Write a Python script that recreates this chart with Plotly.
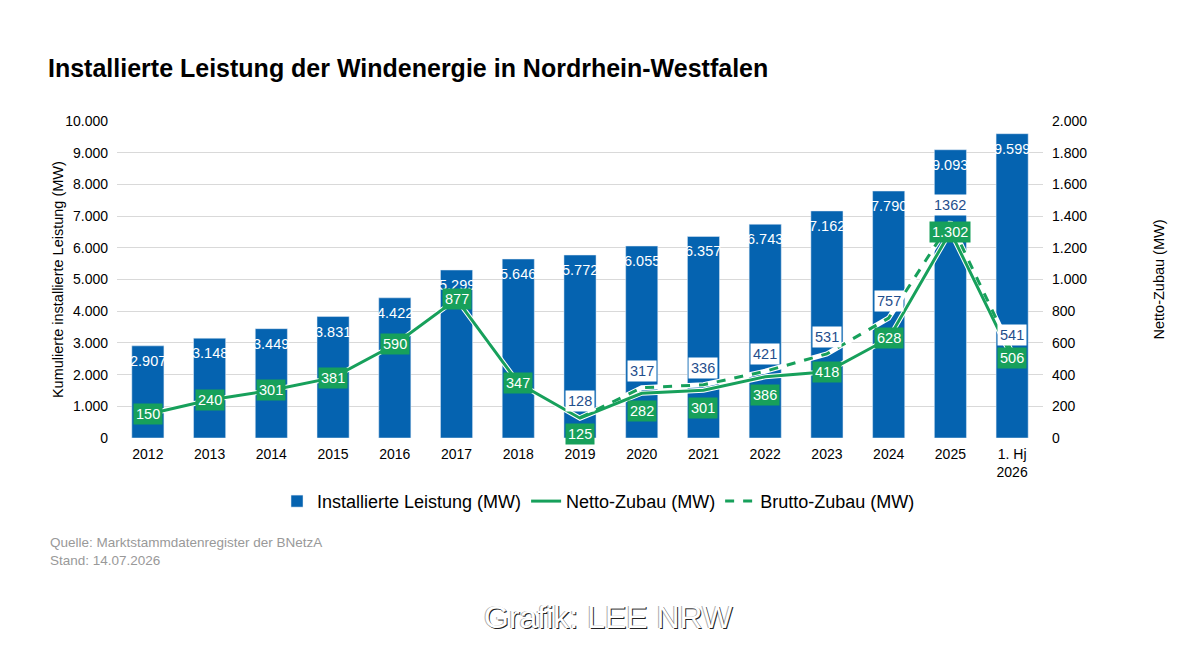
import plotly.graph_objects as go

# Daten
jahre = ["2012", "2013", "2014", "2015", "2016", "2017", "2018", "2019",
         "2020", "2021", "2022", "2023", "2024", "2025", "1. Hj<br>2026"]
installiert = [2907, 3148, 3449, 3831, 4422, 5299, 5646, 5772,
               6055, 6357, 6743, 7162, 7790, 9093, 9599]
netto = [150, 240, 301, 381, 590, 877, 347, 125, 282, 301, 386, 418, 628, 1302, 506]
brutto_jahre = jahre[7:]
brutto = [128, 317, 336, 421, 531, 757, 1362, 541]

blau = "#0563B0"
gruen = "#17A05B"
schrift = "Arial, Liberation Sans, sans-serif"

def tsd(v):
    return f"{v:,}".replace(",", ".")

fig = go.Figure()

fig.add_trace(go.Bar(x=jahre, y=installiert, name="Installierte Leistung (MW)",
                     marker_color=blau, width=0.52))

# weisse Kontur unter den Linien
fig.add_trace(go.Scatter(x=brutto_jahre, y=brutto, yaxis="y2", mode="lines",
                         line=dict(color="white", width=5), showlegend=False,
                         hoverinfo="skip"))
fig.add_trace(go.Scatter(x=jahre, y=netto, yaxis="y2", mode="lines",
                         line=dict(color="white", width=5), showlegend=False,
                         hoverinfo="skip"))
fig.add_trace(go.Scatter(x=jahre, y=netto, yaxis="y2", mode="lines",
                         name="Netto-Zubau (MW)", line=dict(color=gruen, width=3)))
fig.add_trace(go.Scatter(x=brutto_jahre, y=brutto, yaxis="y2", mode="lines",
                         name="Brutto-Zubau (MW)",
                         line=dict(color=gruen, width=3, dash="dash")))

# Balkenbeschriftung (x als Kategorie-Index)
for i, v in enumerate(installiert):
    fig.add_annotation(x=i, y=v, yref="y", text=tsd(v), showarrow=False,
                       yanchor="top", yshift=-5,
                       font=dict(color="white", size=14.5, family=schrift))

# Netto-Beschriftung
unten = {7: -16, 8: -18, 9: -18, 10: -18}
for i, v in enumerate(netto):
    fig.add_annotation(x=i, y=v, yref="y2", text=tsd(v), showarrow=False,
                       yshift=unten.get(i, 0), bgcolor=gruen, borderpad=2,
                       font=dict(color="white", size=14.5, family=schrift))

# Brutto-Beschriftung
for k, v in enumerate(brutto):
    fig.add_annotation(x=jahre.index(brutto_jahre[k]), y=v, yref="y2", text=str(v),
                       showarrow=False, yshift=17, bgcolor="white", borderpad=2,
                       font=dict(color="#1F4E8C", size=14.5, family=schrift))

# Achsentitel
fig.add_annotation(xref="paper", yref="paper", x=-0.075, y=0.5,
                   text="Kumulierte installierte Leistung (MW)", textangle=-90,
                   showarrow=False, font=dict(size=14.5, color="#000", family=schrift))
fig.add_annotation(xref="paper", yref="paper", x=1.135, y=0.5,
                   text="Netto-Zubau (MW)", textangle=-90,
                   showarrow=False, font=dict(size=14.5, color="#000", family=schrift))

# Quelle
fig.add_annotation(xref="paper", yref="paper", x=-0.0745, y=-0.357,
                   xanchor="left", yanchor="middle", align="left",
                   text="Quelle: Marktstammdatenregister der BNetzA<br>Stand: 14.07.2026",
                   showarrow=False, font=dict(size=13.5, color="#999999", family=schrift))

fig.add_annotation(xref="paper", yref="paper", x=0.531, y=-0.628,
                   text="Grafik: LEE NRW", showarrow=False,
                   font=dict(size=32, color="white", family=schrift,
                             shadow="1px 1px 0px #222, -1px 0px 0px #aaa"))

# Seite hat 8px Rand -> Raender entsprechend verschoben
fig.update_layout(
    width=1200, height=648,
    margin=dict(l=109, r=165, t=113, b=218),
    paper_bgcolor="white", plot_bgcolor="white",
    separators=",.",
    font=dict(family=schrift, size=14, color="#000"),
    title=dict(text="<b>Installierte Leistung der Windenergie in Nordrhein-Westfalen</b>",
               x=40 / 1200, xanchor="left", y=1 - 60 / 648, yanchor="middle",
               font=dict(size=25, color="#000", family=schrift)),
    xaxis=dict(type="category", showgrid=False, ticks="", range=[-0.5, 14.5],
               ticklabelstandoff=6, tickfont=dict(size=14)),
    yaxis=dict(range=[0, 10000], dtick=1000, tickformat=",d",
               gridcolor="#d9d9d9", gridwidth=1, zeroline=False,
               ticklabelstandoff=8, tickfont=dict(size=14)),
    yaxis2=dict(range=[0, 2000], dtick=200, tickformat=",d", overlaying="y",
                side="right", showgrid=False, zeroline=False,
                ticklabelstandoff=8, tickfont=dict(size=14)),
    legend=dict(orientation="h", x=0.52, xanchor="center", y=-0.2,
                yanchor="middle", font=dict(size=18),
                traceorder="normal"),
    showlegend=True,
)

fig.write_html("out.html")
